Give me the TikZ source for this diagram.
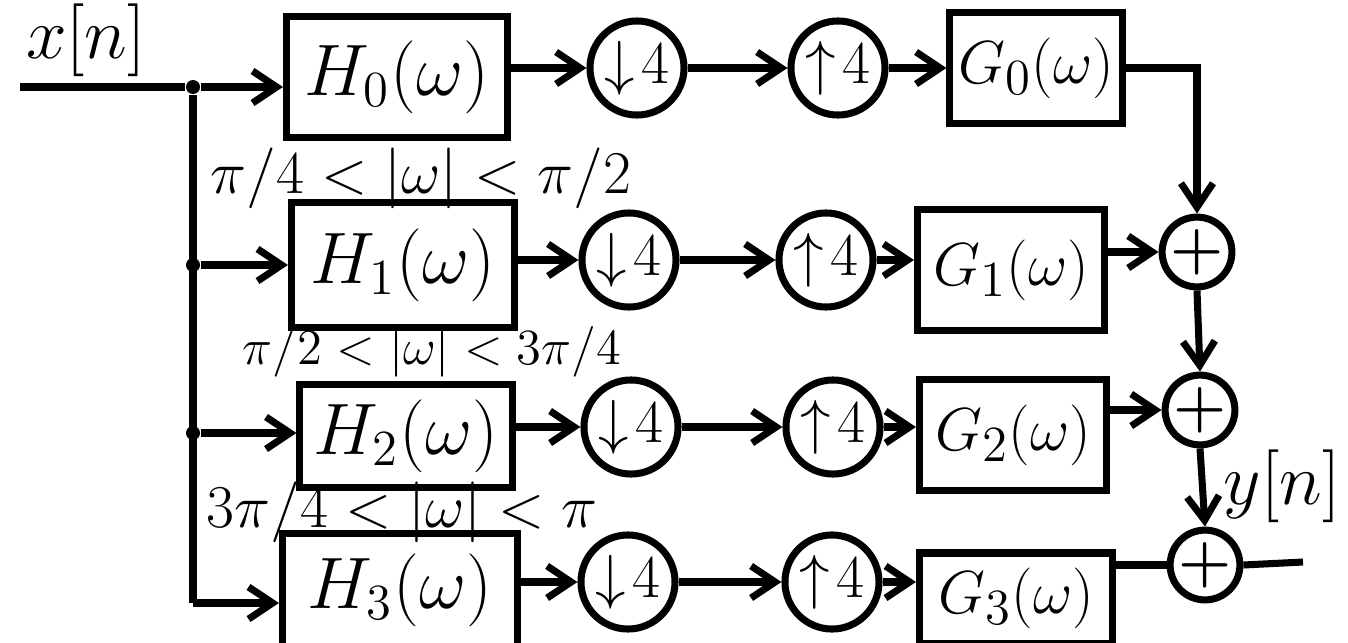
\documentclass[tikz,border=0pt]{standalone}
\usepackage{amsmath,amssymb}
\usepackage{tikz}
\usetikzlibrary{positioning,arrows.meta}
\tikzset{
  every node/.style={font=\fontsize{16}{18}\selectfont},
  filt/.style={
    rectangle, draw, line width=2pt,
    inner sep=1pt, font=\fontsize{22}{24}\selectfont
  },
  synth/.style={filt, font=\fontsize{19}{21}\selectfont},
  rate/.style={
    circle, draw, line width=2pt,
    minimum size=0.94cm, inner sep=0pt,
    font=\fontsize{18}{20}\selectfont
  },
  adder/.style={
    circle, draw, line width=2pt,
    minimum size=0.68cm, inner sep=0pt,
    font=\fontsize{18}{20}\selectfont
  },
  dot/.style={circle, fill, inner sep=0pt, minimum size=0.14cm},
  wire/.style={line width=2pt},
  arrow/.style={
    -{Straight Barb[length=2.4mm,width=3.2mm]},
    line width=2pt
  },
}

\begin{document}
\begin{tikzpicture}[x=0.01cm,y=-0.01cm]
  \useasboundingbox (0,0) rectangle (1348,642);
  % input and trunk
  \node[font=\fontsize{22}{24}\selectfont] (xn) at (86,40) {$x[n]$};
  \coordinate (xin) at (20,87);
  \node[dot] (j0) at (193,87) {};
  \node[dot] (j1) at (193,265) {};
  \node[dot] (j2) at (193,433) {};
  \coordinate (c3) at (193,603);
  % analysis filters
  \node[filt, minimum width=2.21cm, minimum height=1.2cm] (H0) at (397,77) {$H_0(\omega)$};
  \node[filt, minimum width=2.23cm, minimum height=1.25cm] (H1) at (403,265) {$H_1(\omega)$};
  \node[filt, minimum width=2.12cm, minimum height=1.02cm] (H2) at (406,436) {$H_2(\omega)$};
  \node[filt, minimum width=2.35cm, minimum height=1.12cm] (H3) at (400,590) {$H_3(\omega)$};
  % band labels
  \node (b1) at (421,178) {$\pi/4<|\omega|<\pi/2$};
  \node[font=\fontsize{15}{17}\selectfont] (b2) at (432,352) {$\pi/2 < |\omega| < 3\pi/4$};
  \node (b3) at (402,512) {$3\pi/4<|\omega|<\pi$};
  % down / up samplers
  \node[rate] (d0) at (637,68) {$\downarrow\!4$};
  \node[rate] (d1) at (629,260) {$\downarrow\!4$};
  \node[rate] (d2) at (631,427) {$\downarrow\!4$};
  \node[rate] (d3) at (628,582) {$\downarrow\!4$};
  \node[rate] (u0) at (838,68) {$\uparrow\!4$};
  \node[rate] (u1) at (826,260) {$\uparrow\!4$};
  \node[rate] (u2) at (833,427) {$\uparrow\!4$};
  \node[rate] (u3) at (832,582) {$\uparrow\!4$};
  % synthesis filters
  \node[synth, minimum width=1.72cm, minimum height=1.1cm] (G0) at (1036,68) {$G_0(\omega)$};
  \node[synth, minimum width=1.87cm, minimum height=1.2cm] (G1) at (1011,270) {$G_1(\omega)$};
  \node[synth, minimum width=1.87cm, minimum height=1.1cm] (G2) at (1013,435) {$G_2(\omega)$};
  \node[synth, minimum width=1.93cm, minimum height=0.9cm] (G3) at (1016,598) {$G_3(\omega)$};
  % adders
  \node[adder] (add1) at (1197,252) {$\boldsymbol{+}$};
  \node[adder] (add2) at (1200,410) {$\boldsymbol{+}$};
  \node[adder] (add3) at (1205,565) {$\boldsymbol{+}$};
  \coordinate (yout) at (1303,562);
  \node[font=\fontsize{20}{22}\selectfont] (yn) at (1282,486) {$y[n]$};

  \draw[wire] (xin) -- (j0);
  \draw[wire] (j0) -- (c3);
  \draw[arrow] (j0) -- (j0 -| H0.west);
  \draw[arrow] (j1) -- (j1 -| H1.west);
  \draw[arrow] (j2) -- (j2 -| H2.west);
  \draw[arrow] (c3) -- (c3 -| H3.west);

  \draw[arrow] (H0.east |- d0) -- (d0);
  \draw[arrow] (H1.east |- d1) -- (d1);
  \draw[arrow] (H2.east |- d2) -- (d2);
  \draw[arrow] (H3.east |- d3) -- (d3);

  \draw[arrow] (d0) -- (u0);
  \draw[arrow] (d1) -- (u1);
  \draw[arrow] (d2) -- (u2);
  \draw[arrow] (d3) -- (u3);

  \draw[arrow] (u0) -- (u0 -| G0.west);
  \draw[arrow] (u1) -- (u1 -| G1.west);
  \draw[arrow] (u2) -- (u2 -| G2.west);
  \draw[arrow] (u3) -- (u3 -| G3.west);

  \draw[arrow] (G0.east) -| (add1.north);
  \draw[arrow] (add1 -| G1.east) -- (add1.west);
  \draw[arrow] (add2 -| G2.east) -- (add2.west);
  \draw[wire] (add3 -| G3.east) -- (add3.west);
  \draw[arrow] (add1.south) -- (add2.north);
  \draw[arrow] (add2.south) -- (add3.north);
  \draw[wire] (add3.east) -- (yout);
\end{tikzpicture}
\end{document}
